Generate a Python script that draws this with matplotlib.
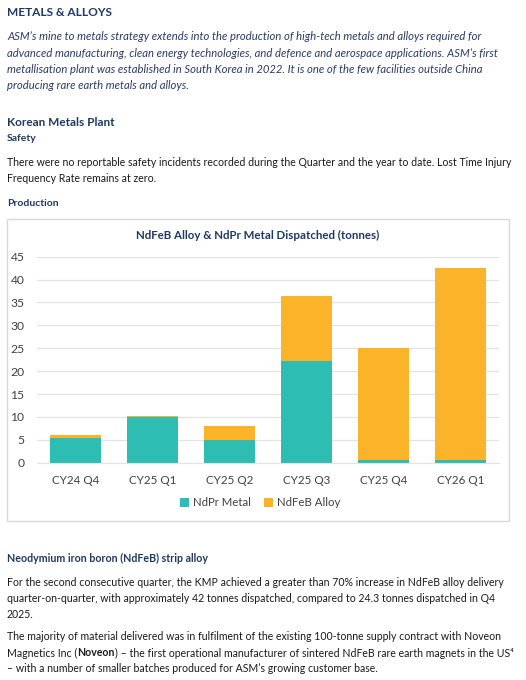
import matplotlib
matplotlib.use('Agg')
from matplotlib import pyplot as plt
from matplotlib.patches import Rectangle

# 数据
quarters = ['CY24 Q4', 'CY25 Q1', 'CY25 Q2', 'CY25 Q3', 'CY25 Q4', 'CY26 Q1']
ndpr_metal = [5.4, 9.9, 5.0, 22.2, 0.65, 0.5]
ndfeb_alloy = [0.6, 0.4, 3.0, 14.3, 24.3, 42.0]
y_ticks = [0, 5, 10, 15, 20, 25, 30, 35, 40, 45]

NAVY = '#1F3864'
TEAL = '#2DBDB3'
ORANGE = '#FBB42A'
BODY = '#1A1A1A'

W, H = 526, 680
plt.rcParams['font.family'] = ['Lato', 'DejaVu Sans']

fig = plt.figure(figsize=(W / 100, H / 100), dpi=100)
fig.patch.set_facecolor('white')


def px(x, y):
    """像素坐标 -> figure 坐标"""
    return x / W, 1 - y / H


def line(x, y, s, size=7.6, color=BODY, weight='normal', style='normal'):
    fig.text(*px(x, y), s, fontsize=size, color=color, fontweight=weight,
             fontstyle=style, va='center', ha='left')


def segments(x, y, parts, size=7.6, color=BODY):
    """一行里混合粗体/常规"""
    renderer = fig.canvas.get_renderer()
    xf = x / W
    for s, weight in parts:
        t = fig.text(xf, 1 - y / H, s, fontsize=size, color=color,
                     fontweight=weight, va='center', ha='left')
        bb = t.get_window_extent(renderer)
        xf += bb.width / W


# 顶部文字
line(7, 12, 'METALS & ALLOYS', size=8.6, color=NAVY, weight='bold')
intro = [
    'ASM\u2019s mine to metals strategy extends into the production of high-tech metals and alloys required for',
    'advanced manufacturing, clean energy technologies, and defence and aerospace applications. ASM\u2019s first',
    'metallisation plant was established in South Korea in 2022. It is one of the few facilities outside China',
    'producing rare earth metals and alloys.',
]
for i, s in enumerate(intro):
    line(7, 37 + i * 16.3, s, size=8.1, color='#2B3A66', style='italic')

line(7, 122, 'Korean Metals Plant', size=8.5, color=NAVY, weight='bold')
line(7, 138.5, 'Safety', size=7.5, color=NAVY, weight='bold')
line(7, 162, 'There were no reportable safety incidents recorded during the Quarter and the year to date. Lost Time Injury')
line(7, 178, 'Frequency Rate remains at zero.')
line(7, 203.5, 'Production', size=7.5, color=NAVY, weight='bold')

# 图表外框
fig.patches.append(Rectangle(px(7, 521), 502 / W, 302 / H, transform=fig.transFigure,
                             facecolor='none', edgecolor='#D9D9D9', linewidth=1.0, zorder=-1))

# 柱状图
ax = fig.add_axes([37 / W, 1 - 462.7 / H, 462 / W, 206 / H])
x = range(len(quarters))
ax.bar(x, ndpr_metal, width=0.66, color=TEAL, label='NdPr Metal', zorder=2)
ax.bar(x, ndfeb_alloy, width=0.66, bottom=ndpr_metal, color=ORANGE, label='NdFeB Alloy', zorder=2)
ax.set_xlim(-0.5, len(quarters) - 0.5)
ax.set_ylim(0, 45)
ax.set_yticks(y_ticks)
ax.set_xticks(list(x))
ax.set_xticklabels(quarters)
ax.yaxis.grid(True, color='#E3E3E3', linewidth=0.9, zorder=0)
ax.set_axisbelow(True)
ax.set_facecolor('none')
for sp in ['top', 'right', 'left']:
    ax.spines[sp].set_visible(False)
ax.spines['bottom'].set_color('#E3E3E3')
ax.tick_params(axis='y', length=0, pad=9, labelsize=8.7, labelcolor='#404040')
ax.tick_params(axis='x', length=0, pad=9, labelsize=8.4, labelcolor='#404040')

fig.text(*px(258, 235), 'NdFeB Alloy & NdPr Metal Dispatched (tonnes)', fontsize=8.3,
         color=NAVY, fontweight='bold', ha='center', va='center')

fig.legend(loc='center', bbox_to_anchor=px(260, 503), ncol=2, frameon=False,
           fontsize=8.2, handlelength=0.8, handleheight=0.8, handletextpad=0.3,
           columnspacing=1.2, labelcolor='#404040')

# 底部文字
line(7, 558, 'Neodymium iron boron (NdFeB) strip alloy', size=7.7, color=NAVY, weight='bold')
line(7, 582.5, 'For the second consecutive quarter, the KMP achieved a greater than 70% increase in NdFeB alloy delivery')
line(7, 598.5, 'quarter-on-quarter, with approximately 42 tonnes dispatched, compared to 24.3 tonnes dispatched in Q4')
line(7, 614, '2025.')
line(7, 637, 'The majority of material delivered was in fulfilment of the existing 100-tonne supply contract with Noveon')
segments(7, 653, [('Magnetics Inc (', 'normal'), ('Noveon', 'bold'),
                  (') \u2013 the first operational manufacturer of sintered NdFeB rare earth magnets in the US\u2074', 'normal')])
line(7, 668.5, '\u2013 with a number of smaller batches produced for ASM\u2019s growing customer base.')

fig.savefig('out.png', dpi=100, facecolor='white')
